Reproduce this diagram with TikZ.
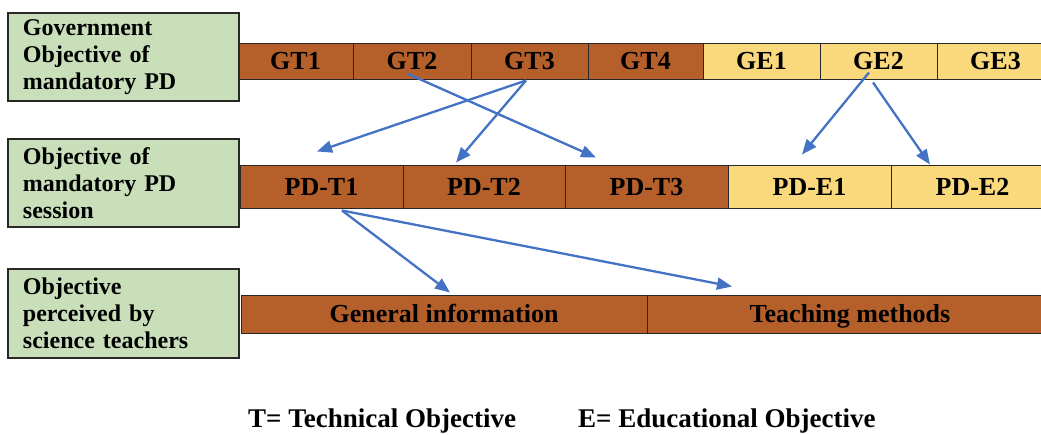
\documentclass[tikz,border=0pt]{standalone}
\usepackage{fontspec}
\setmainfont{Liberation Serif}
\usetikzlibrary{arrows.meta}
\definecolor{brownc}{RGB}{181,95,43}
\definecolor{yellowc}{RGB}{250,216,124}
\definecolor{greenc}{RGB}{201,223,186}
\definecolor{bluec}{RGB}{68,114,196}
\definecolor{edgec}{RGB}{40,40,40}
\tikzset{
  cell/.style={draw=edgec, line width=1pt, inner sep=0pt,
    font=\fontsize{26}{30}\selectfont\bfseries,
    text height=17.5pt, text depth=0pt},
  tcell/.style={cell, fill=brownc},
  ecell/.style={cell, fill=yellowc},
  lbl/.style={draw=edgec, line width=1.2pt, fill=greenc, inner xsep=15pt, inner ysep=0pt,
    text width=201pt, align=left, minimum height=88pt,
    font=\fontsize{24}{27}\selectfont\bfseries},
  arr/.style={draw=bluec, line width=2.3pt, -{Triangle[length=15pt,width=12pt]}},
  legend/.style={font=\fontsize{27}{30}\selectfont\bfseries, inner sep=0pt, anchor=base west}
}
\begin{document}
\begin{tikzpicture}[x=1pt,y=-1pt]
\useasboundingbox (0,0) rectangle (1041,434);
% Row 1
\node[tcell, minimum width=115pt, minimum height=36pt] (gt1) at (295.5,61) {GT1};
\node[tcell, minimum width=118pt, minimum height=36pt] (gt2) at (412,61) {GT2};
\node[tcell, minimum width=117pt, minimum height=36pt] (gt3) at (529.5,61) {GT3};
\node[tcell, minimum width=115pt, minimum height=36pt] (gt4) at (645.5,61) {GT4};
\node[ecell, minimum width=117pt, minimum height=36pt] (ge1) at (761.5,61) {GE1};
\node[ecell, minimum width=117pt, minimum height=36pt] (ge2) at (878.5,61) {GE2};
\node[ecell, minimum width=117pt, minimum height=36pt] (ge3) at (995.5,61) {GE3};
% Row 2
\node[tcell, minimum width=163pt, minimum height=43pt] (pdt1) at (321.5,186.5) {PD-T1};
\node[tcell, minimum width=162pt, minimum height=43pt] (pdt2) at (484,186.5) {PD-T2};
\node[tcell, minimum width=163pt, minimum height=43pt] (pdt3) at (646.5,186.5) {PD-T3};
\node[ecell, minimum width=163pt, minimum height=43pt] (pde1) at (809.5,186.5) {PD-E1};
\node[ecell, minimum width=163pt, minimum height=43pt] (pde2) at (972.5,186.5) {PD-E2};
% Row 3
\node[tcell, minimum width=406pt, minimum height=38pt] (gi) at (444,314) {General information};
\node[tcell, minimum width=406pt, minimum height=38pt] (tm) at (850,314) {Teaching methods};
% Left labels
\node[lbl] (l1) at (123.5,57) {Government\\Objective of\\mandatory PD};
\node[lbl] (l2) at (123.5,183) {Objective of\\mandatory PD\\session};
\node[lbl, minimum height=89pt] (l3) at (123.5,313.5) {Objective\\perceived by\\science teachers};
% Arrows
\draw[arr] ([xshift=-5pt,yshift=6pt]gt2.south) -- ([xshift=-50.5pt,yshift=7pt]pdt3.north);
\draw[arr] ([xshift=-3.5pt,yshift=-1pt]gt3.south) -- ([xshift=-4.5pt,yshift=13pt]pdt1.north);
\draw[arr] ([xshift=-3.5pt,yshift=-1pt]gt3.south) -- ([xshift=-28pt,yshift=2pt]pdt2.north);
\draw[arr] ([xshift=-9.5pt,yshift=7pt]ge2.south) -- ([xshift=-7.5pt,yshift=10pt]pde1.north);
\draw[arr] ([xshift=-5.5pt,yshift=-3pt]ge2.south) -- ([xshift=-42.5pt,yshift=0pt]pde2.north);
\draw[arr] ([xshift=20.5pt,yshift=-2pt]pdt1.south) -- ([xshift=6pt,yshift=2pt]gi.north);
\draw[arr] ([xshift=20.5pt,yshift=-2pt]pdt1.south) -- ([xshift=-118pt,yshift=8pt]tm.north);
% Legend
\node[legend] (lt) at (248,427) {T= Technical Objective};
\node[legend] (le) at (578,427) {E= Educational Objective};
\end{tikzpicture}
\end{document}
